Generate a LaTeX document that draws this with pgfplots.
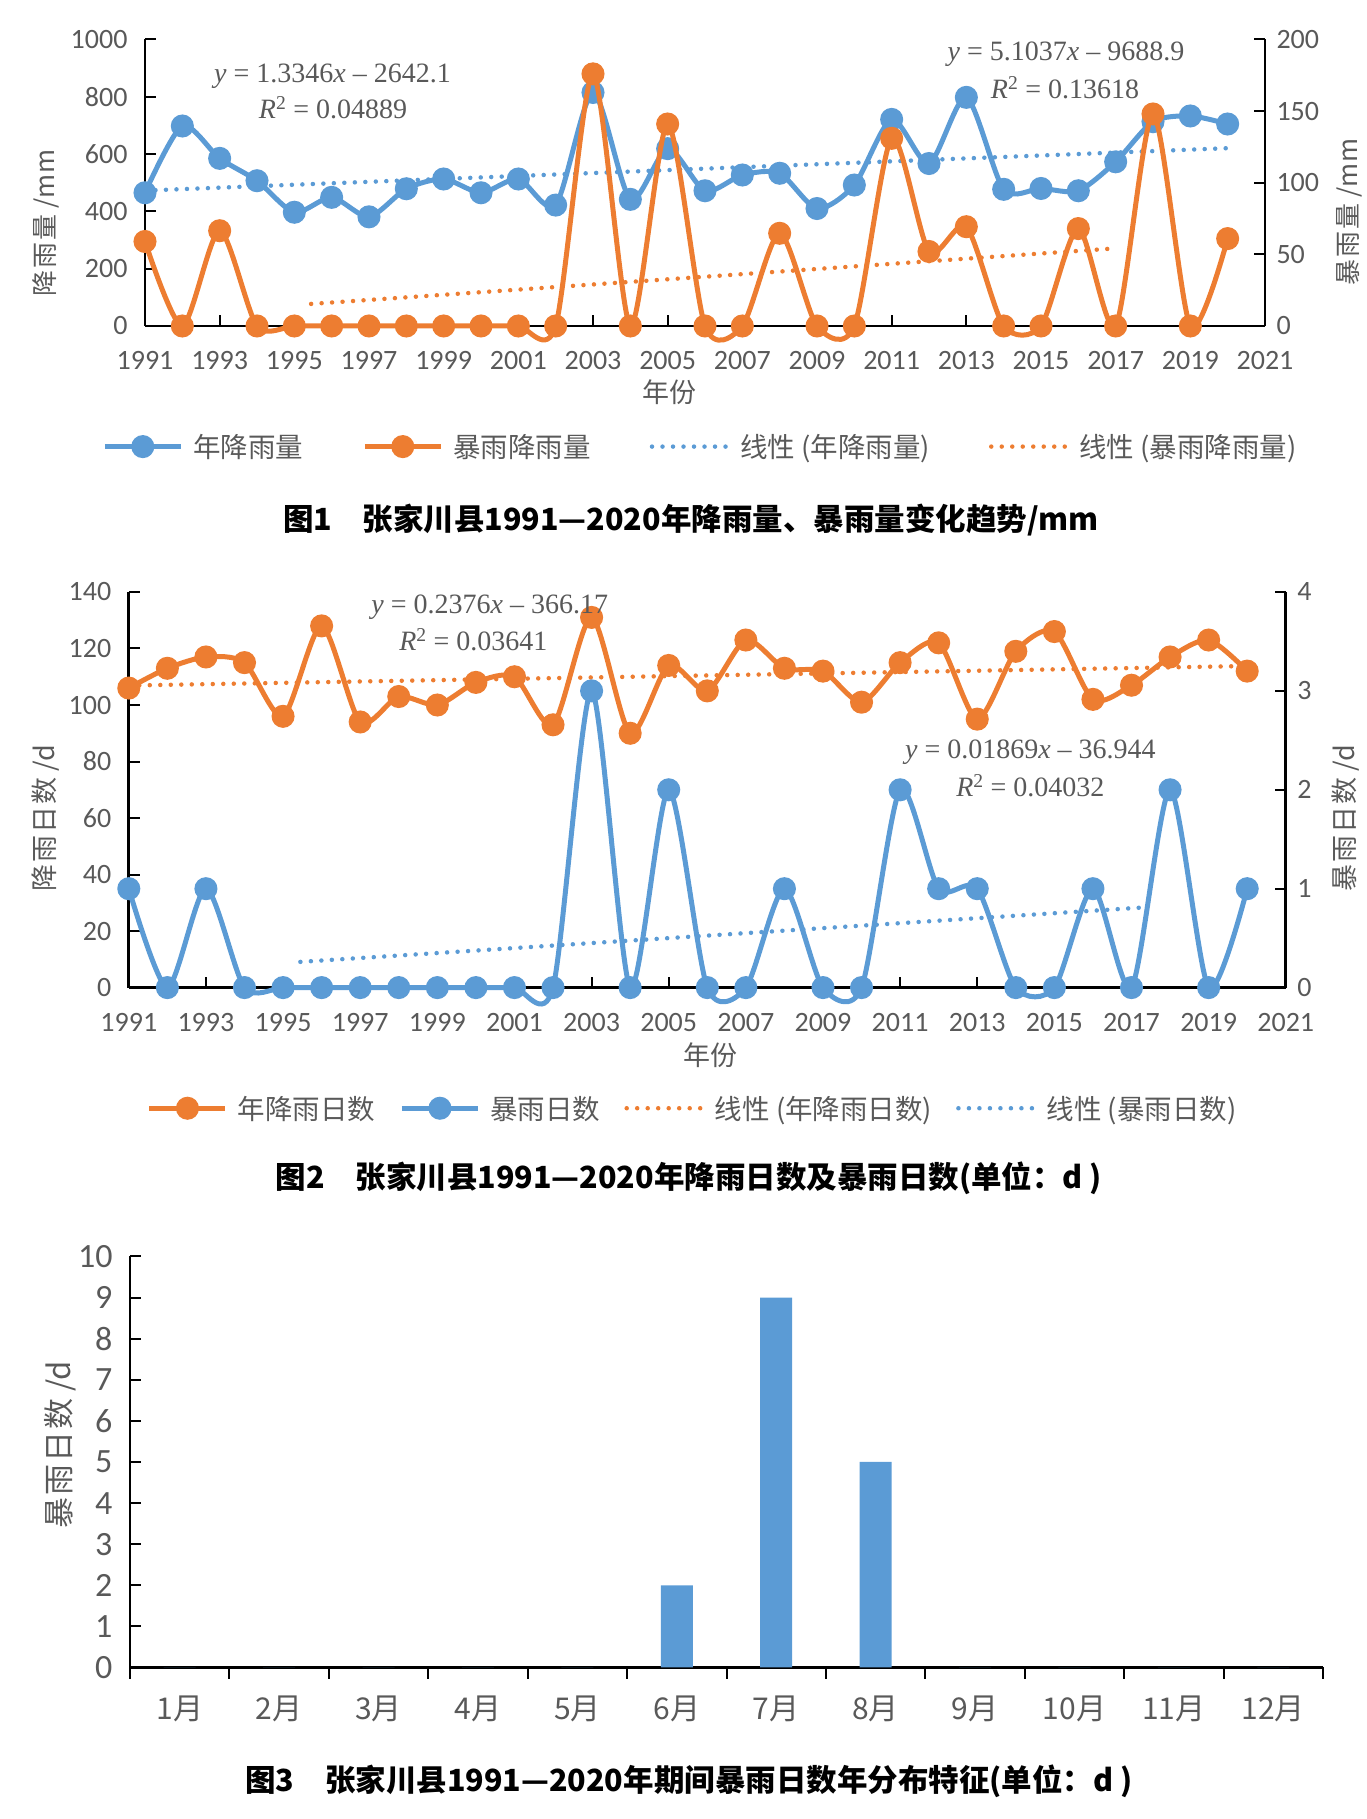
\documentclass[border=0pt]{standalone}
\usepackage{fontspec}
\usepackage{pgfplots}
\pgfplotsset{compat=1.18}
\setmainfont{Liberation Serif}
\newfontfamily\cjk{Noto Sans CJK SC}
\newfontfamily\tickf{Carlito}
\definecolor{cblue}{HTML}{5B9BD5}
\definecolor{corange}{HTML}{ED7D31}
\definecolor{tgray}{HTML}{595959}
\pgfplotsset{
  base/.style={
    scale only axis, anchor=south west, clip=false,
    axis line style={black, line width=2.8bp},
    tick style={black, line width=2bp}, major tick length=11bp, tick align=inside,
    tick label style={font=\tickf\fontsize{28bp}{30bp}\selectfont, text=tgray},
    /pgf/number format/assume math mode=true,
    /pgf/number format/1000 sep={},
    legend cell align=left,
    legend image code/.code={\draw[mark repeat=2,mark phase=2,#1] plot coordinates {(0bp,0bp) (38bp,0bp) (76bp,0bp)};},
  },
  leftax/.style={axis x line*=bottom, axis y line*=left, yticklabel style={xshift=-14bp}, xticklabel style={yshift=-22bp}},
  rightax/.style={axis y line*=right, axis x line=none, yticklabel style={xshift=8bp}},
  dataline/.style={line width=5bp, smooth, tension=0.45, mark=*, mark size=9bp, mark options={solid}},
  trend/.style={line width=4.5bp, line cap=round, dash pattern=on 0bp off 10.5bp, mark=none},
  leg/.style={draw=none, fill=none, inner sep=0pt, row sep=0pt,
    font=\cjk\fontsize{27.5bp}{30bp}\selectfont, text=tgray,
    /tikz/every odd column/.append style={column sep=8bp},
    /tikz/every even column/.append style={column sep=#1}},
}
\begin{document}
\begin{tikzpicture}
\useasboundingbox (0,0) rectangle (1367bp,1819bp);
% ---------- Figure 1 ----------
\begin{axis}[base, leftax, at={(145bp,1493bp)}, width=1120bp, height=286.5bp,
  xmin=1991, xmax=2021, ymin=0, ymax=1000,
  xtick={1991,1993,...,2021}, ytick={0,200,...,1000}]
\addplot[dataline, cblue] coordinates {
(1991,465) (1992,698) (1993,585) (1994,507) (1995,397) (1996,449) (1997,381) (1998,479) (1999,513) (2000,465)
(2001,513) (2002,422) (2003,815) (2004,442) (2005,619) (2006,472) (2007,527) (2008,533) (2009,410) (2010,492)
(2011,721) (2012,567) (2013,798) (2014,477) (2015,480) (2016,472) (2017,573) (2018,713) (2019,733) (2020,705)};
\addplot[trend, cblue] coordinates {(1991,472.6) (2020,620.6)};
\end{axis}
\begin{axis}[base, rightax, at={(145bp,1493bp)}, width=1120bp, height=286.5bp,
  xmin=1991, xmax=2021, ymin=0, ymax=200, ytick={0,50,...,200},
  legend columns=4, legend style={leg=57bp, at={(0.496,-0.421)}, anchor=center}]
\addlegendimage{dataline, cblue}\addlegendentry{年降雨量}
\addplot[dataline, corange] coordinates {
(1991,59) (1992,0) (1993,66.5) (1994,0) (1995,0) (1996,0) (1997,0) (1998,0) (1999,0) (2000,0)
(2001,0) (2002,0) (2003,176) (2004,0) (2005,141) (2006,0) (2007,0) (2008,64.7) (2009,0) (2010,0)
(2011,131) (2012,52) (2013,69.3) (2014,0) (2015,0) (2016,68) (2017,0) (2018,148) (2019,0) (2020,61)};
\addlegendentry{暴雨降雨量}
\addlegendimage{trend, cblue}\addlegendentry{线性 (年降雨量)}
\addplot[trend, corange] coordinates {(1995.45,15.4) (2017.0,54.2)};
\addlegendentry{线性 (暴雨降雨量)}
\end{axis}
\node[rotate=90, font=\cjk\fontsize{26bp}{28bp}\selectfont, text=tgray] at (46bp,1596bp) {降\hspace{2bp}雨\hspace{2bp}量 /mm};
\node[rotate=90, font=\cjk\fontsize{26bp}{28bp}\selectfont, text=tgray] at (1349.5bp,1607bp) {暴\hspace{2bp}雨\hspace{2bp}量 /mm};
\node[font=\cjk\fontsize{27bp}{28bp}\selectfont, text=tgray] at (669.5bp,1427bp) {年份};
\node[font=\fontsize{28bp}{30bp}\selectfont, text=tgray] at (332.5bp,1742.4bp) {\textit{y} = 1.3346\textit{x} – 2642.1};
\node[font=\fontsize{28bp}{30bp}\selectfont, text=tgray] at (333bp,1711bp) {\textit{R}\textsuperscript{2} = 0.04889};
\node[font=\fontsize{28bp}{30bp}\selectfont, text=tgray] at (1066bp,1764.5bp) {\textit{y} = 5.1037\textit{x} – 9688.9};
\node[font=\fontsize{28bp}{30bp}\selectfont, text=tgray] at (1065bp,1730.8bp) {\textit{R}\textsuperscript{2} = 0.13618};
\node[font=\cjk\bfseries\fontsize{30.5bp}{32bp}\selectfont] at (691bp,1299bp) {图1\hspace{1em}张家川县1991—2020年降雨量、暴雨量变化趋势/mm};
% ---------- Figure 2 ----------
\begin{axis}[base, leftax, at={(128.8bp,831.4bp)}, width=1157bp, height=395.6bp,
  xmin=1991, xmax=2021, ymin=0, ymax=140,
  xtick={1991,1993,...,2021}, ytick={0,20,...,140}]
\addplot[dataline, corange] coordinates {
(1991,106) (1992,113) (1993,117) (1994,115) (1995,96) (1996,128) (1997,94) (1998,103) (1999,100) (2000,108)
(2001,110) (2002,93) (2003,131) (2004,90) (2005,114) (2006,105) (2007,123) (2008,113) (2009,112) (2010,101)
(2011,115) (2012,122) (2013,95) (2014,119) (2015,126) (2016,102) (2017,107) (2018,117) (2019,123) (2020,112)};
\addplot[trend, corange] coordinates {(1991,106.9) (2020,113.8)};
\end{axis}
\begin{axis}[base, rightax, at={(128.8bp,831.4bp)}, width=1157bp, height=395.6bp,
  xmin=1991, xmax=2021, ymin=0, ymax=4, ytick={0,1,...,4},
  legend columns=4, legend style={leg=22bp, at={(0.4874,-0.305)}, anchor=center}]
\addlegendimage{dataline, corange}\addlegendentry{年降雨日数}
\addplot[dataline, cblue] coordinates {
(1991,1) (1992,0) (1993,1) (1994,0) (1995,0) (1996,0) (1997,0) (1998,0) (1999,0) (2000,0)
(2001,0) (2002,0) (2003,3) (2004,0) (2005,2) (2006,0) (2007,0) (2008,1) (2009,0) (2010,0)
(2011,2) (2012,1) (2013,1) (2014,0) (2015,0) (2016,1) (2017,0) (2018,2) (2019,0) (2020,1)};
\addlegendentry{暴雨日数}
\addlegendimage{trend, corange}\addlegendentry{线性 (年降雨日数)}
\addplot[trend, cblue] coordinates {(1995.45,0.26) (2017.3,0.81)};
\addlegendentry{线性 (暴雨日数)}
\end{axis}
\node[rotate=90, font=\cjk\fontsize{27bp}{30bp}\selectfont, text=tgray] at (46bp,1001bp) {降\hspace{2bp}雨\hspace{2bp}日\hspace{2bp}数 /d};
\node[rotate=90, font=\cjk\fontsize{27bp}{30bp}\selectfont, text=tgray] at (1346bp,1001bp) {暴\hspace{2bp}雨\hspace{2bp}日\hspace{2bp}数 /d};
\node[font=\cjk\fontsize{27bp}{28bp}\selectfont, text=tgray] at (710bp,764bp) {年份};
\node[font=\fontsize{28bp}{30bp}\selectfont, text=tgray] at (489.7bp,1212bp) {\textit{y} = 0.2376\textit{x} – 366.17};
\node[font=\fontsize{28bp}{30bp}\selectfont, text=tgray] at (473.4bp,1179.6bp) {\textit{R}\textsuperscript{2} = 0.03641};
\node[font=\fontsize{28bp}{30bp}\selectfont, text=tgray] at (1030.4bp,1067bp) {\textit{y} = 0.01869\textit{x} – 36.944};
\node[font=\fontsize{28bp}{30bp}\selectfont, text=tgray] at (1030.4bp,1033.4bp) {\textit{R}\textsuperscript{2} = 0.04032};
\node[font=\cjk\bfseries\fontsize{30.5bp}{32bp}\selectfont] at (689bp,641bp) {图2\hspace{1em}张家川县1991—2020年降雨日数及暴雨日数(单位：d )};
% ---------- Figure 3 ----------
\begin{axis}[base, at={(130bp,151.5bp)}, width=1193bp, height=411bp,
  xmin=0.5, xmax=12.5, ymin=0, ymax=10, ytick={0,1,...,10},
  xtick={0.5,1.5,...,12.5},
  xticklabels={1月,2月,3月,4月,5月,6月,7月,8月,9月,10月,11月,12月,{}},
  xticklabel style={font=\cjk\fontsize{30bp}{32bp}\selectfont, xshift=49.7bp, yshift=-14bp},
  yticklabel style={font=\tickf\fontsize{34bp}{36bp}\selectfont, xshift=-14bp},
  axis x line*=bottom, axis y line*=left,
  ybar, bar width=32bp]
\addplot[fill=cblue, draw=none] coordinates {(1,0) (2,0) (3,0) (4,0) (5,0) (6,2) (7,9) (8,5) (9,0) (10,0) (11,0) (12,0)};
\end{axis}
\node[rotate=90, font=\cjk\fontsize{31bp}{33bp}\selectfont, text=tgray] at (60bp,374bp) {暴\hspace{2bp}雨\hspace{2bp}日\hspace{2bp}数 /d};
\node[font=\cjk\bfseries\fontsize{30.5bp}{32bp}\selectfont] at (689bp,38bp) {图3\hspace{1em}张家川县1991—2020年期间暴雨日数年分布特征(单位：d )};
\end{tikzpicture}
\end{document}
